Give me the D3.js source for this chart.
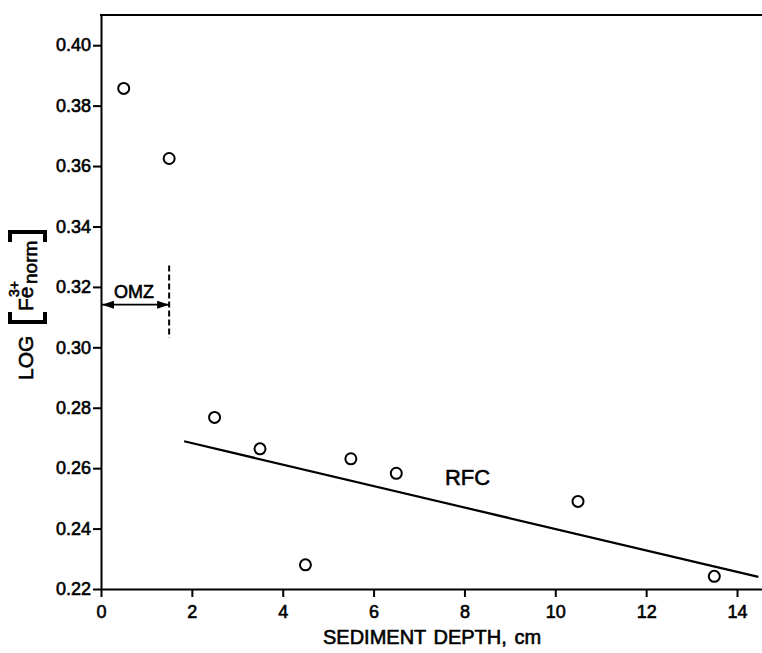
<!DOCTYPE html>
<html lang="en">
<head>
    <meta charset="UTF-8">
    <title>LOG Fe3+ norm vs sediment depth</title>
    <style>
        body { margin: 0; background: #fff; }
        svg { display: block; }
        text { font-family: "Liberation Sans", Arial, sans-serif; fill: #000; stroke: #000; stroke-width: 0.6px; }
        .axis path, .axis line { stroke: #000; stroke-width: 2px; }
        .axis text { font-size: 18px; }
        circle { fill: #fff; stroke: #000; stroke-width: 2px; }
    </style>
    <script src="https://d3js.org/d3.v7.min.js"></script>
</head>
<body>
    <script>
        // sediment depth (cm) and LOG [Fe3+ norm]
        const depth = [0.5, 1.5, 2.5, 3.5, 4.5, 5.5, 6.5, 10.5, 13.5];
        const logFe = [0.3857, 0.3625, 0.2768, 0.2664, 0.2280, 0.2631, 0.2583, 0.2490, 0.2242];

        // RFC fitted line end points
        const rfcDepth = [1.83, 14.47];
        const rfcLog = [0.2689, 0.2240];

        // OMZ marker (depth boundary, arrow level, dashed extent)
        const omzDepth = 1.5;
        const omzArrowLog = 0.3141;
        const omzDashLog = [0.3032, 0.3271];

        const xTicks = [0, 2, 4, 6, 8, 10, 12, 14];
        const yTicks = [0.22, 0.24, 0.26, 0.28, 0.30, 0.32, 0.34, 0.36, 0.38, 0.40];

        const width = 762, height = 653;
        const svg = d3.select("body").append("svg")
            .attr("width", width)
            .attr("height", height);

        const x = d3.scaleLinear().domain([0, 14.55]).range([101, 762]);
        const y = d3.scaleLinear().domain([0.22, 0.41]).range([589, 15]);

        // arrow heads
        const defs = svg.append("defs");
        defs.append("marker")
            .attr("id", "head")
            .attr("viewBox", "0 0 12 8")
            .attr("refX", 12).attr("refY", 4)
            .attr("markerWidth", 12).attr("markerHeight", 8)
            .attr("markerUnits", "userSpaceOnUse")
            .attr("orient", "auto-start-reverse")
            .append("path")
            .attr("d", "M0,0 L12,4 L0,8 Z")
            .attr("fill", "#000");

        // axes
        svg.append("g")
            .attr("class", "axis")
            .attr("transform", `translate(0,${y(0.22)})`)
            .call(d3.axisBottom(x).tickValues(xTicks).tickSize(8).tickSizeOuter(0).tickPadding(8));

        svg.append("g")
            .attr("class", "axis")
            .attr("transform", `translate(${x(0)},0)`)
            .call(d3.axisLeft(y).tickValues(yTicks).tickSize(8).tickSizeOuter(0).tickPadding(2)
                .tickFormat(d3.format(".2f")));

        // top border
        svg.append("line")
            .attr("x1", x(0) - 1).attr("x2", width)
            .attr("y1", y(0.41)).attr("y2", y(0.41))
            .attr("stroke", "#000").attr("stroke-width", 2);

        // RFC line
        svg.append("line")
            .attr("x1", x(rfcDepth[0])).attr("y1", y(rfcLog[0]))
            .attr("x2", x(rfcDepth[1])).attr("y2", y(rfcLog[1]))
            .attr("stroke", "#000").attr("stroke-width", 2.2);

        svg.append("text")
            .attr("x", x(7.57)).attr("y", y(0.2544))
            .style("font-size", "22px")
            .text("RFC");

        // data points
        svg.append("g").selectAll("circle")
            .data(depth.map((d, i) => [d, logFe[i]]))
            .join("circle")
            .attr("cx", d => x(d[0]))
            .attr("cy", d => y(d[1]))
            .attr("r", 5.5);

        // OMZ
        svg.append("line")
            .attr("x1", x(omzDepth)).attr("x2", x(omzDepth))
            .attr("y1", y(omzDashLog[1])).attr("y2", y(omzDashLog[0]))
            .attr("stroke", "#000").attr("stroke-width", 2)
            .attr("stroke-dasharray", "6,3");

        svg.append("line")
            .attr("x1", x(0) + 1).attr("x2", x(omzDepth))
            .attr("y1", y(omzArrowLog)).attr("y2", y(omzArrowLog))
            .attr("stroke", "#000").attr("stroke-width", 1.8)
            .attr("marker-start", "url(#head)")
            .attr("marker-end", "url(#head)");

        svg.append("text")
            .attr("x", x(omzDepth / 2) - 1).attr("y", y(0.3162))
            .attr("text-anchor", "middle")
            .style("font-size", "18px")
            .text("OMZ");

        // x axis title
        svg.append("text")
            .attr("x", 432).attr("y", 644)
            .attr("text-anchor", "middle")
            .style("font-size", "20px")
            .style("word-spacing", "2px")
            .text("SEDIMENT DEPTH, cm");

        // y axis title, rotated
        const yl = svg.append("g").attr("transform", "rotate(-90)");
        yl.append("text")
            .attr("x", -380).attr("y", 33)
            .style("font-size", "21px")
            .text("LOG");
        yl.append("path")
            .attr("d", "M-312,10 L-322,10 L-322,45 L-312,45")
            .attr("fill", "none").attr("stroke", "#000").attr("stroke-width", 4);
        yl.append("text")
            .attr("x", -311).attr("y", 33)
            .style("font-size", "21px")
            .text("Fe");
        yl.append("text")
            .attr("x", -297).attr("y", 19)
            .style("font-size", "14px")
            .text("3+");
        yl.append("text")
            .attr("x", -284).attr("y", 37)
            .style("font-size", "19px")
            .text("norm");
        yl.append("path")
            .attr("d", "M-242,10 L-232,10 L-232,45 L-242,45")
            .attr("fill", "none").attr("stroke", "#000").attr("stroke-width", 4);
    </script>
</body>
</html>
